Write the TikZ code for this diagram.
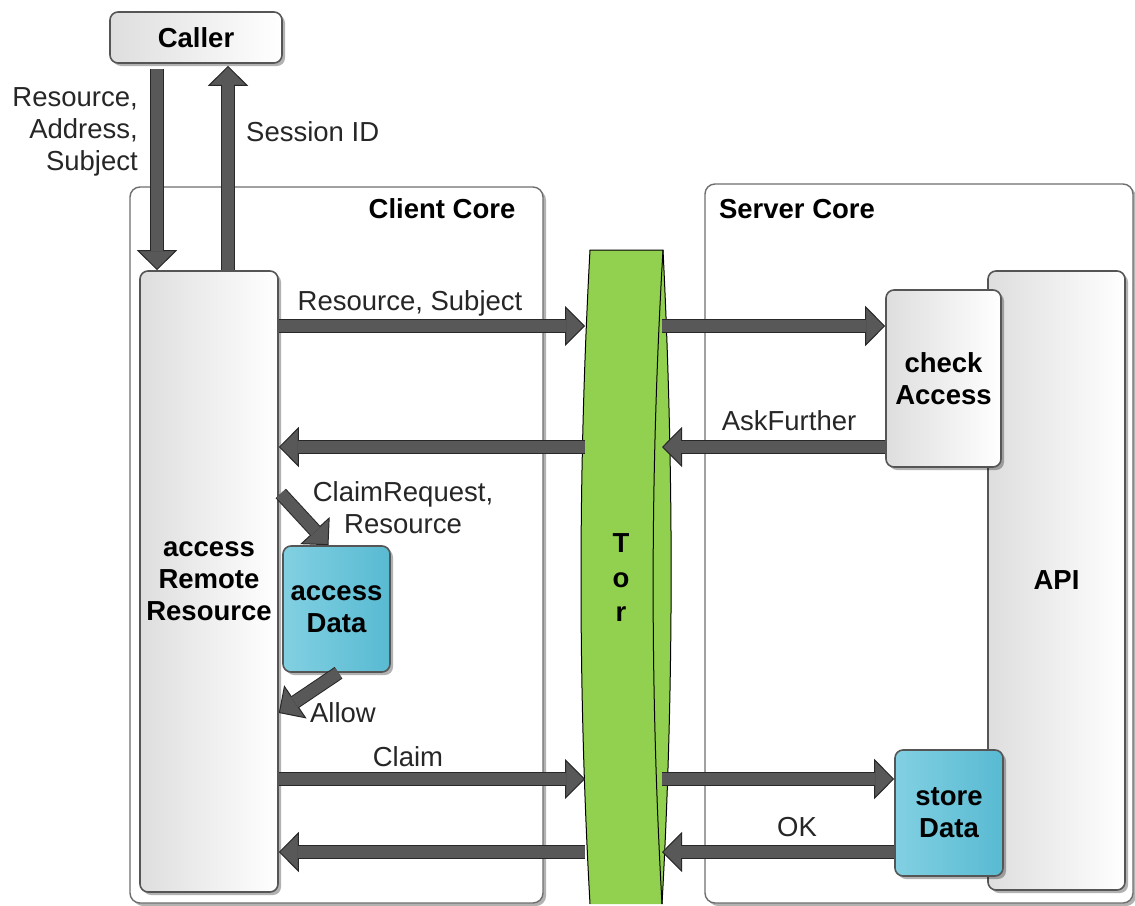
\documentclass[tikz,border=0pt]{standalone}
\usepackage{fontspec}
\setmainfont{Liberation Sans}
\usepackage{tikz}
\usetikzlibrary{arrows.meta, positioning, shadows, calc}
\usepackage{xcolor}
\definecolor{cinzaSeta}{RGB}{88, 88, 88}
\definecolor{contorno}{RGB}{40, 40, 40}
\definecolor{borda}{RGB}{85, 85, 85}
\definecolor{verdeTor}{RGB}{146, 208, 80}
\definecolor{cianoA}{RGB}{130, 208, 226}
\definecolor{cianoB}{RGB}{88, 186, 210}
\newcommand{\fonteGrande}{\fontsize{27.5}{32}\selectfont}
\tikzset{
  sombra/.style={drop shadow={shadow xshift=3pt, shadow yshift=-3pt, opacity=0.3, fill=black}},
  caixa/.style={
    draw=borda, line width=1.6pt, rounded corners=8pt, sombra,
    left color=black!13, right color=white,
    font=\fonteGrande\bfseries, align=center, inner sep=0pt
  },
  caixaDados/.style={caixa, left color=cianoA, right color=cianoB},
  nucleo/.style={draw=borda!85, line width=1.4pt, rounded corners=10pt, fill=white, sombra, inner sep=0pt},
  seta/.style={
    -{Triangle[length=20pt, width=40pt, line width=1pt, color=contorno, fill=cinzaSeta]},
    line width=14pt, draw=contorno,
    postaction={draw=cinzaSeta, line width=12pt, -, shorten >=19pt}
  },
}

\begin{document}
\begin{tikzpicture}[
    x=1pt, y=-1pt,
    font=\fonteGrande,
    rotulo/.style={inner sep=0pt, text=black!85},
    titulo/.style={inner sep=0pt, font=\fonteGrande\bfseries}
]
\useasboundingbox (0,0) rectangle (1135,905);

\node[nucleo, minimum width=413, minimum height=716] (client) at (336.5,545) {};
\node[nucleo, minimum width=428, minimum height=719] (server) at (919,543.5) {};
\node[titulo] (clientTitle) at (442,209) {Client Core};
\node[titulo] (serverTitle) at (797,209) {Server Core};

\node[caixa, minimum width=172, minimum height=51] (caller) at (196,37.5) {Caller};
\node[caixa, minimum width=138, minimum height=621] (remote) at (209,581.5)
{access\\Remote\\Resource};
\node[caixaDados, minimum width=107, minimum height=126] (dados) at (336.5,609)
{access\\Data};
\node[caixa, minimum width=137, minimum height=619] (api) at (1056.5,580.5) {API};
\node[caixa, minimum width=115, minimum height=177] (check) at (943.5,378.5)
{check\\Access};
\node[caixaDados, minimum width=108, minimum height=126] (store) at (949,813)
{store\\Data};

\fill[verdeTor] (590,250) .. controls (578,470) and (578,690) .. (590,904)
  -- (662,904) .. controls (674,690) and (674,470) .. (663,250) -- cycle;
\draw[line width=1pt] (590,904) .. controls (578,690) and (578,470) .. (590,250)
  -- (663,250) .. controls (674,470) and (674,690) .. (662,904);
\draw[line width=1pt] (663,250) .. controls (650,470) and (650,690) .. (662,904);
\node[titulo, align=center, font=\fontsize{27.5}{34.5}\selectfont\bfseries] (tor) at (621,578)
{T\\o\\r};

\coordinate (torL) at (585,0);
\coordinate (torR) at (662,0);
\coordinate (desce) at (157,0);
\coordinate (sobe) at (228,0);
\coordinate (r1) at (0,326);
\coordinate (r2) at (0,447);
\coordinate (r3) at (0,779);
\coordinate (r4) at (0,852);

\draw[seta, shorten <=5pt] (caller.south -| desce) -- (remote.north -| desce);
\draw[seta, shorten >=2pt] (remote.north -| sobe) -- (caller.south -| sobe);

\draw[seta] (remote.east |- r1) -- (torL |- r1);
\draw[seta] (torR |- r1) -- (check.west |- r1);
\draw[seta] (check.west |- r2) -- (torR |- r2);
\draw[seta] (torL |- r2) -- (remote.east |- r2);
\draw[seta] ($(remote.east)+(2,-88)$) -- ([xshift=-8pt]dados.north);
\draw[seta] ([xshift=2pt]dados.south) -- ($(remote.east)+(0,131.5)$);
\draw[seta] (remote.east |- r3) -- (torL |- r3);
\draw[seta] (torR |- r3) -- (store.west |- r3);
\draw[seta] (store.west |- r4) -- (torR |- r4);
\draw[seta] (torL |- r4) -- (remote.east |- r4);

\node[rotulo, align=right, anchor=east] (entrada) at (138,132) {Resource,\\Address,\\Subject};
\node[rotulo, anchor=west] (sessao) at (246,132) {Session ID};
\node[rotulo] (pedido) at (410,303) {Resource, Subject};
\node[rotulo] (pergunta) at (789,421) {AskFurther};
\node[rotulo, align=center] (claimReq) at (403,508) {ClaimRequest,\\Resource};
\node[rotulo] (permite) at (343,713) {Allow};
\node[rotulo] (claim) at (408,757) {Claim};
\node[rotulo] (ok) at (797,827) {OK};

\end{tikzpicture}
\end{document}
